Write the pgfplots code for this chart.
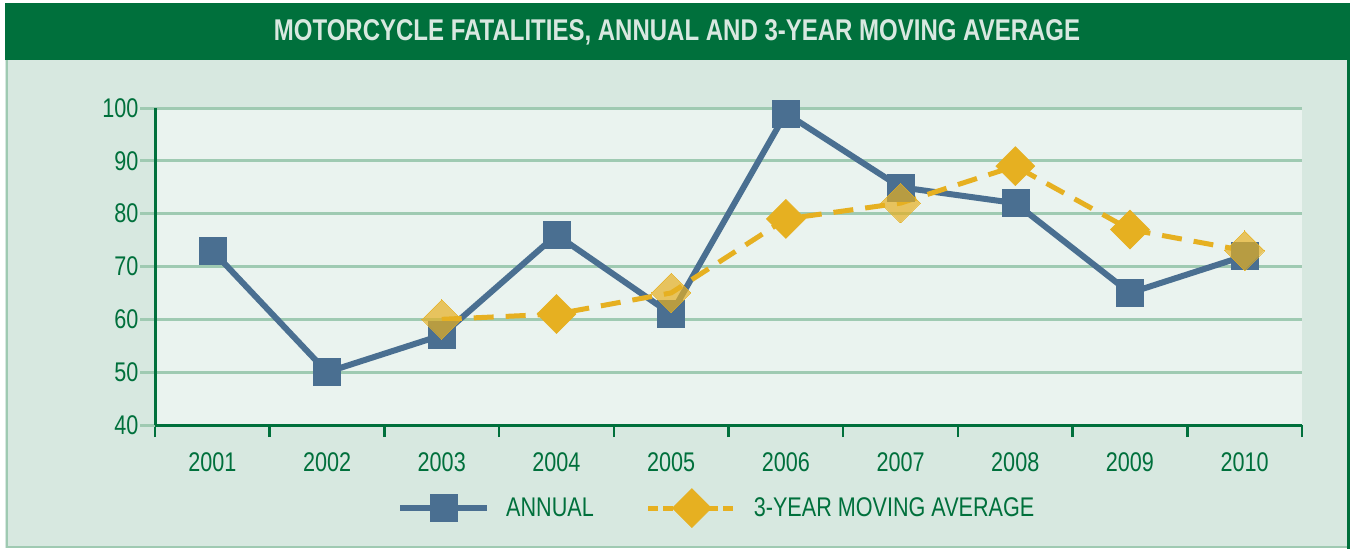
\documentclass[border=0pt]{standalone}
\usepackage{fontspec}
\setmainfont{Liberation Sans}[FakeStretch=0.8]
\usepackage{pgfplots}
\pgfplotsset{compat=1.18}
\definecolor{dkgreen}{HTML}{00703C}
\definecolor{bgA}{HTML}{D7E8E0}
\definecolor{plotbg}{HTML}{EAF3EF}
\definecolor{gridc}{HTML}{9FCAB2}
\definecolor{annual}{HTML}{4A6F91}
\definecolor{mavg}{HTML}{E6B021}
\definecolor{titletext}{HTML}{D8E8E0}
\begin{document}
\begin{tikzpicture}[x=1pt,y=1pt]
\fill[white] (0,0) rectangle (1353,-550);
\fill[bgA] (5,-60) rectangle (1349,-548);
\draw[gridc, line width=1.5pt] (7,-60) -- (7,-547) -- (1348,-547);
\draw[dkgreen, line width=3pt] (1348,-58) -- (1348,-549);
\fill[dkgreen] (5,-3) rectangle (1350,-60);
\node[text=titletext, font=\fontsize{30}{34}\selectfont\bfseries] at (677,-32) {MOTORCYCLE FATALITIES, ANNUAL AND 3-YEAR MOVING AVERAGE};
\begin{axis}[
  at={(155pt,-425pt)}, anchor=south west,
  scale only axis, width=1147pt, height=317pt,
  xmin=-0.5, xmax=9.5, ymin=40, ymax=100,
  axis background/.style={fill=plotbg},
  axis x line*=bottom, axis y line*=left,
  axis line style={dkgreen, line width=3pt, -},
  xtick={0,...,9},
  xticklabels={2001,2002,2003,2004,2005,2006,2007,2008,2009,2010},
  major x tick style={draw=none},
  minor xtick={-0.5,0.5,...,9.5},
  minor x tick style={dkgreen, line width=2.5pt},
  minor tick length=12pt,
  tick align=outside,
  ytick={40,50,...,100},
  major y tick style={gridc, line width=3pt},
  major tick length=15pt,
  ymajorgrids,
  grid style={gridc, line width=3pt},
  /pgf/number format/assume math mode=true,
  ticklabel style={font=\fontsize{27}{30}\selectfont, text=dkgreen},
  xticklabel style={yshift=-9pt},
  yticklabel style={xshift=2pt},
  legend style={draw=none, fill=none, inner sep=0pt, at={(0.2110,-0.262)}, anchor=west,
    font=\fontsize{27}{30}\selectfont, text=dkgreen,
    nodes={inner sep=0pt}},
  legend columns=2,
  legend cell align=left,
  /tikz/every odd column/.append style={column sep=16pt},
  /tikz/every even column/.append style={column sep=52pt},
  legend image code/.code={
    \draw[#1, mark=none] (0pt,0pt) -- (87pt,0pt);
    \draw[#1, only marks] plot coordinates {(43.5pt,0pt)};
  },
  clip=false,
]
\addplot[annual, line width=6pt, mark=square*, mark size=13.5pt,
  mark options={solid, line width=0.5pt}, forget plot]
  coordinates {(0,73)(1,50)(2,57)(3,76)(4,61)(5,99)(6,85)(7,82)(8,65)(9,72)};
\addplot[mavg, line width=5pt, dash pattern=on 20pt off 12pt, mark=square*, mark size=13.8pt,
  mark options={solid, rotate=45, line width=0.5pt}, mark indices={2,4,6,7}, forget plot]
  coordinates {(2,60)(3,61)(4,65)(5,79)(6,82)(7,89)(8,77)(9,73)};
\addplot[mavg, only marks, mark=square*, mark size=14pt,
  mark options={solid, rotate=45, fill=mavg, draw=mavg, line width=0pt, opacity=0.7}, forget plot]
  coordinates {(2,60)(4,65)(6,82)(9,73)};
\addlegendimage{annual, line width=6pt, mark=square*, mark size=13.5pt, mark options={solid, line width=0.5pt}}
\addlegendentry{ANNUAL}
\addlegendimage{mavg, line width=5pt, dash pattern=on 10pt off 5pt, mark=square*, mark size=13.8pt, mark options={solid, rotate=45, line width=0.5pt}}
\addlegendentry{3-YEAR MOVING AVERAGE}
\end{axis}
\end{tikzpicture}
\end{document}
